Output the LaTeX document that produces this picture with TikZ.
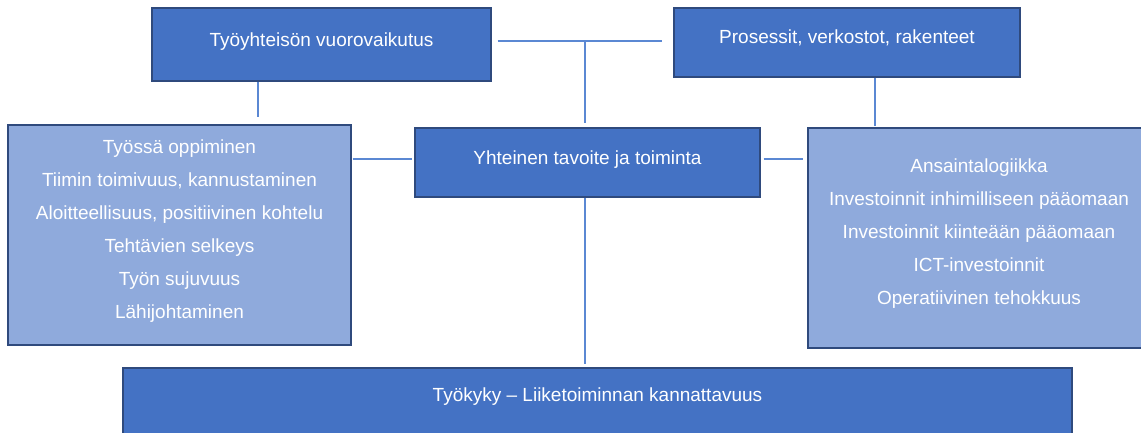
\documentclass[tikz,border=0pt]{standalone}
\usepackage{fontspec}
\setmainfont{Liberation Sans}
\definecolor{tummansininen}{HTML}{4472C4}
\definecolor{vaaleansininen}{HTML}{8FAADC}
\definecolor{reunavari}{HTML}{2F4A7D}
\definecolor{linjavari}{HTML}{5B88D3}

\begin{document}
\begin{tikzpicture}[x=1pt,y=-1pt,
  laatikko/.style={draw=reunavari,line width=1.3pt,text=white,inner sep=0pt,align=center,font=\fontsize{19}{33}\selectfont},
  tummalaatikko/.style={laatikko,fill=tummansininen,text height=14pt},
  vaalealaatikko/.style={laatikko,fill=vaaleansininen},
  yhteys/.style={draw=linjavari,line width=1.6pt}]
\useasboundingbox (0,0) rectangle (1141,432);
\fill[white] (0,0) rectangle (1141,432);

\node[tummalaatikko,minimum width=339pt,minimum height=73pt,text depth=10pt] (vuoro) at (321.5,44.5) {Työyhteisön vuorovaikutus};
\node[tummalaatikko,minimum width=346pt,minimum height=69pt,text depth=12pt] (prosessit) at (847,42.5) {Prosessit, verkostot, rakenteet};
\node[tummalaatikko,minimum width=345pt,minimum height=69pt,text depth=11pt] (yhteinen) at (587.5,162.5) {Yhteinen tavoite ja toiminta};
\node[vaalealaatikko,minimum width=343pt,minimum height=220pt] (vasen) at (179.5,235) {\rule{0pt}{14pt}Työssä oppiminen\\
  Tiimin toimivuus, kannustaminen\\
  Aloitteellisuus, positiivinen kohtelu\\
  Tehtävien selkeys\\
  Työn sujuvuus\\
  Lähijohtaminen\rule[-13pt]{0pt}{13pt}};
\node[vaalealaatikko,minimum width=342pt,minimum height=220pt] (oikea) at (979,238) {\rule{0pt}{14pt}Ansaintalogiikka\\
  Investoinnit inhimilliseen pääomaan\\
  Investoinnit kiinteään pääomaan\\
  ICT-investoinnit\\
  Operatiivinen tehokkuus\rule[-14pt]{0pt}{14pt}};
\node[tummalaatikko,minimum width=949pt,minimum height=68pt,text depth=16pt] (tyokyky) at (597.5,402) {Työkyky – Liiketoiminnan kannattavuus};

\coordinate (liitos) at (585,41);
\coordinate (vasenliitos) at ([xshift=-63.5pt]vuoro.south);
\coordinate (oikealiitos) at ([xshift=28pt]prosessit.south);
\coordinate (keskivasen) at ([yshift=3.5pt]yhteinen.west);
\coordinate (keskioikea) at ([yshift=3.5pt]yhteinen.east);

\draw[yhteys,shorten <=6pt,shorten >=11pt] (vuoro.east |- liitos) -- (prosessit.west |- liitos);
\draw[yhteys,shorten >=4pt] (liitos) -- (liitos |- yhteinen.north);
\draw[yhteys,shorten >=3pt] (yhteinen.south -| liitos) -- (liitos |- tyokyky.north);
\draw[yhteys,shorten >=7pt] (vasenliitos) -- (vasenliitos |- vasen.north);
\draw[yhteys,shorten >=1pt] (oikealiitos) -- (oikealiitos |- oikea.north);
\draw[yhteys,shorten <=1pt,shorten >=2pt] (vasen.east |- keskivasen) -- (keskivasen);
\draw[yhteys,shorten <=3pt,shorten >=4pt] (keskioikea) -- (oikea.west |- keskioikea);
\end{tikzpicture}
\end{document}
